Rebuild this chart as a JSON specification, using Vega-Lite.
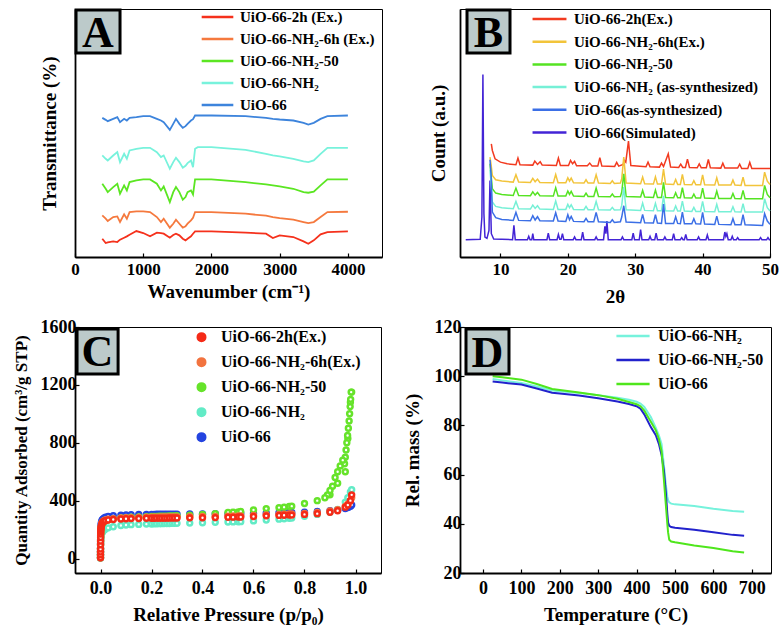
{
"$schema": "https://vega.github.io/schema/vega-lite/v6.json",
"background": "white",
"padding": {"left": 11, "top": 5, "right": 0, "bottom": 0},
"columns": 2,
"spacing": {"row": 70, "column": 78},
"bounds": "flush",
"resolve": {"scale": {"color": "independent"}, "legend": {"color": "independent"}},
"config": {
 "font": "Liberation Serif",
 "view": {"stroke": "black", "strokeWidth": 1},
 "axis": {"domainColor": "black", "domainWidth": 1.8, "tickColor": "black", "tickWidth": 1.2, "tickSize": -4, "labelFont": "Liberation Serif", "labelFontWeight": "bold", "labelColor": "black", "labelFontSize": 17, "titleFont": "Liberation Serif", "titleFontWeight": "bold", "titleColor": "black", "titleFontSize": 19, "grid": false, "labelFlush": false, "labelOverlap": false},
 "legend": {"labelFont": "Liberation Serif", "labelFontWeight": "bold", "labelColor": "black", "labelFontSize": 15, "padding": 0, "orient": "none", "labelLimit": 400},
 "text": {"font": "Liberation Serif"}
},
"datasets": {
 "tags": [
  {"panel": "A", "x0": 15, "x1": 660, "y0": 613, "y1": 742, "xc": 337, "yc": 677, "t": "A"},
  {"panel": "B", "x0": 5.04, "x1": 11.42, "y0": 613, "y1": 742, "xc": 8.23, "yc": 677, "t": "B"},
  {"panel": "C", "x0": -0.092, "x1": 0.069, "y0": 1275, "y1": 1586, "xc": -0.012, "yc": 1431, "t": "C"},
  {"panel": "D", "x0": -44.4, "x1": 67.6, "y0": 100.9, "y1": 119.2, "xc": 11.6, "yc": 110, "t": "D"}
 ],
 "namesA": [{"k": "a", "s": "UiO-66-2h (Ex.)"}, {"k": "b", "s": "UiO-66-NH₂-6h (Ex.)"}, {"k": "c", "s": "UiO-66-NH₂-50"}, {"k": "d", "s": "UiO-66-NH₂"}, {"k": "e", "s": "UiO-66"}],
 "namesB": [{"k": "r", "s": "UiO-66-2h(Ex.)"}, {"k": "ye", "s": "UiO-66-NH₂-6h(Ex.)"}, {"k": "gr", "s": "UiO-66-NH₂-50"}, {"k": "cy", "s": "UiO-66-NH₂ (as-synthesized)"}, {"k": "bl", "s": "UiO-66(as-synthesized)"}, {"k": "p", "s": "UiO-66(Simulated)"}],
 "namesC": [{"k": "r", "s": "UiO-66-2h(Ex.)", "z": 5}, {"k": "o", "s": "UiO-66-NH₂-6h(Ex.)", "z": 4}, {"k": "g", "s": "UiO-66-NH₂-50", "z": 3}, {"k": "c", "s": "UiO-66-NH₂", "z": 2}, {"k": "b", "s": "UiO-66", "z": 1}],
 "namesD": [{"k": "c", "s": "UiO-66-NH₂"}, {"k": "b", "s": "UiO-66-NH₂-50"}, {"k": "g", "s": "UiO-66"}],
 "ftir": [
  {"w": 400, "a": 55, "b": 125, "c": 220, "d": 305, "e": 418},
  {"w": 450, "a": 42, "b": 115, "c": 205, "d": 295, "e": 412},
  {"w": 480, "a": 44, "b": 108, "c": 195, "d": 290, "e": 408},
  {"w": 560, "a": 47, "b": 120, "c": 210, "d": 305, "e": 415},
  {"w": 620, "a": 45, "b": 122, "c": 220, "d": 315, "e": 420},
  {"w": 660, "a": 52, "b": 105, "c": 190, "d": 285, "e": 405},
  {"w": 720, "a": 58, "b": 128, "c": 215, "d": 310, "e": 415},
  {"w": 760, "a": 62, "b": 115, "c": 200, "d": 295, "e": 410},
  {"w": 800, "a": 67, "b": 135, "c": 225, "d": 320, "e": 418},
  {"w": 900, "a": 78, "b": 137, "c": 230, "d": 325, "e": 420},
  {"w": 1000, "a": 72, "b": 137, "c": 233, "d": 328, "e": 423},
  {"w": 1100, "a": 62, "b": 135, "c": 233, "d": 328, "e": 423},
  {"w": 1200, "a": 73, "b": 120, "c": 220, "d": 315, "e": 415},
  {"w": 1260, "a": 72, "b": 105, "c": 200, "d": 300, "e": 410},
  {"w": 1300, "a": 70, "b": 115, "c": 212, "d": 305, "e": 405},
  {"w": 1390, "a": 58, "b": 88, "c": 165, "d": 265, "e": 382},
  {"w": 1440, "a": 66, "b": 100, "c": 195, "d": 285, "e": 400},
  {"w": 1480, "a": 70, "b": 112, "c": 210, "d": 298, "e": 415},
  {"w": 1530, "a": 65, "b": 100, "c": 195, "d": 285, "e": 400},
  {"w": 1580, "a": 55, "b": 88, "c": 172, "d": 268, "e": 388},
  {"w": 1620, "a": 50, "b": 92, "c": 180, "d": 274, "e": 393},
  {"w": 1650, "a": 55, "b": 100, "c": 195, "d": 282, "e": 400},
  {"w": 1700, "a": 62, "b": 110, "c": 200, "d": 290, "e": 410},
  {"w": 1730, "a": 70, "b": 118, "c": 188, "d": 270, "e": 414},
  {"w": 1760, "a": 77, "b": 135, "c": 233, "d": 325, "e": 425},
  {"w": 1800, "a": 77, "b": 135, "c": 233, "d": 330, "e": 425},
  {"w": 2000, "a": 77, "b": 135, "c": 233, "d": 330, "e": 425},
  {"w": 2500, "a": 73, "b": 130, "c": 225, "d": 322, "e": 423},
  {"w": 2800, "a": 70, "b": 124, "c": 218, "d": 310, "e": 418},
  {"w": 2900, "a": 57, "b": 120, "c": 215, "d": 305, "e": 415},
  {"w": 3000, "a": 65, "b": 117, "c": 212, "d": 302, "e": 413},
  {"w": 3200, "a": 60, "b": 112, "c": 205, "d": 295, "e": 410},
  {"w": 3350, "a": 47, "b": 105, "c": 195, "d": 287, "e": 403},
  {"w": 3420, "a": 40, "b": 102, "c": 193, "d": 285, "e": 398},
  {"w": 3500, "a": 50, "b": 105, "c": 196, "d": 290, "e": 403},
  {"w": 3600, "a": 68, "b": 120, "c": 215, "d": 310, "e": 415},
  {"w": 3700, "a": 75, "b": 135, "c": 233, "d": 328, "e": 423},
  {"w": 4000, "a": 77, "b": 136, "c": 233, "d": 328, "e": 425}
 ],
 "xrd4": [
  {"x": 8.45, "ye": 300, "gr": 280, "cy": 262, "bl": 292},
  {"x": 8.6, "ye": 280, "gr": 250, "cy": 225, "bl": 250},
  {"x": 8.8, "ye": 245, "gr": 205, "cy": 165, "bl": 135},
  {"x": 9.3, "ye": 232, "gr": 192, "cy": 152, "bl": 118},
  {"x": 10.2, "ye": 228, "gr": 188, "cy": 148, "bl": 113},
  {"x": 11.9, "ye": 225, "gr": 185, "cy": 145, "bl": 110},
  {"x": 12.3, "ye": 247, "gr": 207, "cy": 167, "bl": 134},
  {"x": 12.7, "ye": 225, "gr": 185, "cy": 145, "bl": 110},
  {"x": 14.45, "ye": 224, "gr": 184, "cy": 144, "bl": 109},
  {"x": 14.8, "ye": 236, "gr": 196, "cy": 156, "bl": 124},
  {"x": 15.15, "ye": 226, "gr": 186, "cy": 146, "bl": 111},
  {"x": 15.5, "ye": 234, "gr": 194, "cy": 154, "bl": 121},
  {"x": 15.85, "ye": 224, "gr": 184, "cy": 144, "bl": 109},
  {"x": 17.85, "ye": 223, "gr": 183, "cy": 143, "bl": 108},
  {"x": 18.2, "ye": 248, "gr": 208, "cy": 168, "bl": 133},
  {"x": 18.55, "ye": 223, "gr": 183, "cy": 143, "bl": 108},
  {"x": 19.7, "ye": 223, "gr": 183, "cy": 143, "bl": 107},
  {"x": 20.0, "ye": 238, "gr": 198, "cy": 158, "bl": 127},
  {"x": 20.25, "ye": 228, "gr": 188, "cy": 148, "bl": 112},
  {"x": 20.5, "ye": 237, "gr": 197, "cy": 157, "bl": 122},
  {"x": 20.85, "ye": 223, "gr": 183, "cy": 143, "bl": 107},
  {"x": 22.4, "ye": 222, "gr": 182, "cy": 142, "bl": 106},
  {"x": 22.7, "ye": 232, "gr": 192, "cy": 152, "bl": 116},
  {"x": 23.0, "ye": 222, "gr": 182, "cy": 142, "bl": 106},
  {"x": 23.85, "ye": 222, "gr": 182, "cy": 142, "bl": 106},
  {"x": 24.2, "ye": 247, "gr": 207, "cy": 167, "bl": 134},
  {"x": 24.55, "ye": 222, "gr": 182, "cy": 142, "bl": 106},
  {"x": 26.3, "ye": 221, "gr": 181, "cy": 141, "bl": 104},
  {"x": 26.6, "ye": 229, "gr": 189, "cy": 149, "bl": 112},
  {"x": 26.9, "ye": 221, "gr": 181, "cy": 141, "bl": 104},
  {"x": 27.8, "ye": 222, "gr": 182, "cy": 142, "bl": 106},
  {"x": 28.0, "ye": 235, "gr": 195, "cy": 155, "bl": 120},
  {"x": 28.3, "ye": 300, "gr": 250, "cy": 210, "bl": 154},
  {"x": 28.65, "ye": 222, "gr": 182, "cy": 142, "bl": 105},
  {"x": 30.8, "ye": 220, "gr": 180, "cy": 140, "bl": 103},
  {"x": 31.1, "ye": 240, "gr": 200, "cy": 162, "bl": 128},
  {"x": 31.4, "ye": 220, "gr": 180, "cy": 140, "bl": 103},
  {"x": 32.7, "ye": 219, "gr": 179, "cy": 139, "bl": 102},
  {"x": 33.0, "ye": 241, "gr": 201, "cy": 161, "bl": 127},
  {"x": 33.3, "ye": 219, "gr": 179, "cy": 139, "bl": 102},
  {"x": 33.9, "ye": 219, "gr": 179, "cy": 139, "bl": 101},
  {"x": 34.2, "ye": 264, "gr": 224, "cy": 184, "bl": 159},
  {"x": 34.5, "ye": 219, "gr": 179, "cy": 139, "bl": 101},
  {"x": 35.7, "ye": 218, "gr": 178, "cy": 138, "bl": 101},
  {"x": 36.0, "ye": 233, "gr": 193, "cy": 153, "bl": 121},
  {"x": 36.3, "ye": 218, "gr": 178, "cy": 138, "bl": 101},
  {"x": 36.7, "ye": 218, "gr": 178, "cy": 138, "bl": 100},
  {"x": 37.0, "ye": 248, "gr": 208, "cy": 168, "bl": 135},
  {"x": 37.3, "ye": 218, "gr": 178, "cy": 138, "bl": 100},
  {"x": 38.4, "ye": 217, "gr": 177, "cy": 137, "bl": 100},
  {"x": 38.7, "ye": 229, "gr": 189, "cy": 149, "bl": 115},
  {"x": 39.0, "ye": 217, "gr": 177, "cy": 137, "bl": 100},
  {"x": 39.7, "ye": 217, "gr": 177, "cy": 137, "bl": 99},
  {"x": 40.0, "ye": 247, "gr": 207, "cy": 167, "bl": 134},
  {"x": 40.3, "ye": 217, "gr": 177, "cy": 137, "bl": 99},
  {"x": 41.8, "ye": 216, "gr": 176, "cy": 136, "bl": 98},
  {"x": 42.1, "ye": 238, "gr": 198, "cy": 158, "bl": 123},
  {"x": 42.4, "ye": 216, "gr": 176, "cy": 136, "bl": 98},
  {"x": 44.2, "ye": 216, "gr": 176, "cy": 136, "bl": 97},
  {"x": 44.5, "ye": 231, "gr": 191, "cy": 151, "bl": 115},
  {"x": 44.8, "ye": 216, "gr": 176, "cy": 136, "bl": 97},
  {"x": 45.7, "ye": 215, "gr": 175, "cy": 135, "bl": 97},
  {"x": 46.0, "ye": 240, "gr": 200, "cy": 160, "bl": 127},
  {"x": 46.3, "ye": 215, "gr": 175, "cy": 135, "bl": 97},
  {"x": 48.9, "ye": 215, "gr": 175, "cy": 135, "bl": 95},
  {"x": 49.2, "ye": 255, "gr": 215, "cy": 175, "bl": 130},
  {"x": 49.6, "ye": 228, "gr": 188, "cy": 148, "bl": 108},
  {"x": 50.0, "ye": 218, "gr": 178, "cy": 138, "bl": 98}
 ],
 "xrdRP": [
  {"k": "r", "x": 8.65, "v": 340}, {"k": "r", "x": 8.8, "v": 320}, {"k": "r", "x": 9.2, "v": 295}, {"k": "r", "x": 10, "v": 285}, {"k": "r", "x": 11, "v": 280},
  {"k": "r", "x": 12.3, "v": 277}, {"k": "r", "x": 12.6, "v": 297}, {"k": "r", "x": 12.9, "v": 277}, {"k": "r", "x": 14.8, "v": 276}, {"k": "r", "x": 15.1, "v": 288},
  {"k": "r", "x": 15.5, "v": 278}, {"k": "r", "x": 15.9, "v": 286}, {"k": "r", "x": 16.2, "v": 276}, {"k": "r", "x": 18.3, "v": 275}, {"k": "r", "x": 18.6, "v": 297},
  {"k": "r", "x": 18.9, "v": 275}, {"k": "r", "x": 20.1, "v": 275}, {"k": "r", "x": 20.4, "v": 290}, {"k": "r", "x": 20.7, "v": 280}, {"k": "r", "x": 21.0, "v": 287},
  {"k": "r", "x": 21.3, "v": 274}, {"k": "r", "x": 22.9, "v": 274}, {"k": "r", "x": 23.25, "v": 282}, {"k": "r", "x": 23.6, "v": 273}, {"k": "r", "x": 24.45, "v": 273},
  {"k": "r", "x": 24.75, "v": 298}, {"k": "r", "x": 25.05, "v": 273}, {"k": "r", "x": 26.95, "v": 272}, {"k": "r", "x": 27.25, "v": 284}, {"k": "r", "x": 27.55, "v": 273},
  {"k": "r", "x": 28.2, "v": 278}, {"k": "r", "x": 28.4, "v": 290}, {"k": "r", "x": 28.6, "v": 285}, {"k": "r", "x": 29.0, "v": 348}, {"k": "r", "x": 29.35, "v": 275},
  {"k": "r", "x": 31.6, "v": 271}, {"k": "r", "x": 31.9, "v": 285}, {"k": "r", "x": 32.2, "v": 271}, {"k": "r", "x": 33.6, "v": 270}, {"k": "r", "x": 33.9, "v": 282},
  {"k": "r", "x": 34.2, "v": 272}, {"k": "r", "x": 34.9, "v": 310}, {"k": "r", "x": 35.25, "v": 270}, {"k": "r", "x": 36.45, "v": 269}, {"k": "r", "x": 36.75, "v": 279},
  {"k": "r", "x": 37.05, "v": 269}, {"k": "r", "x": 37.45, "v": 269}, {"k": "r", "x": 37.75, "v": 294}, {"k": "r", "x": 38.05, "v": 269}, {"k": "r", "x": 39.2, "v": 268},
  {"k": "r", "x": 39.5, "v": 280}, {"k": "r", "x": 39.8, "v": 268}, {"k": "r", "x": 40.55, "v": 268}, {"k": "r", "x": 40.85, "v": 293}, {"k": "r", "x": 41.15, "v": 268},
  {"k": "r", "x": 42.7, "v": 267}, {"k": "r", "x": 43.0, "v": 282}, {"k": "r", "x": 43.3, "v": 267}, {"k": "r", "x": 45.2, "v": 267}, {"k": "r", "x": 45.5, "v": 279},
  {"k": "r", "x": 45.8, "v": 266}, {"k": "r", "x": 46.7, "v": 266}, {"k": "r", "x": 47.0, "v": 284}, {"k": "r", "x": 47.3, "v": 266}, {"k": "r", "x": 50, "v": 266},
  {"k": "p", "x": 4.85, "v": 52}, {"k": "p", "x": 7.0, "v": 53}, {"k": "p", "x": 7.25, "v": 120}, {"k": "p", "x": 7.4, "v": 548}, {"k": "p", "x": 7.55, "v": 130},
  {"k": "p", "x": 7.7, "v": 60}, {"k": "p", "x": 8.0, "v": 56}, {"k": "p", "x": 8.3, "v": 80}, {"k": "p", "x": 8.45, "v": 230}, {"k": "p", "x": 8.65, "v": 70},
  {"k": "p", "x": 9.0, "v": 54}, {"k": "p", "x": 11.8, "v": 52}, {"k": "p", "x": 12.0, "v": 95}, {"k": "p", "x": 12.2, "v": 52}, {"k": "p", "x": 14.0, "v": 52},
  {"k": "p", "x": 14.2, "v": 62}, {"k": "p", "x": 14.4, "v": 52}, {"k": "p", "x": 14.65, "v": 52}, {"k": "p", "x": 14.8, "v": 70}, {"k": "p", "x": 14.95, "v": 52},
  {"k": "p", "x": 16.9, "v": 52}, {"k": "p", "x": 17.1, "v": 72}, {"k": "p", "x": 17.3, "v": 52}, {"k": "p", "x": 18.4, "v": 52}, {"k": "p", "x": 18.6, "v": 68},
  {"k": "p", "x": 18.8, "v": 53}, {"k": "p", "x": 19.0, "v": 53}, {"k": "p", "x": 19.2, "v": 70}, {"k": "p", "x": 19.4, "v": 52}, {"k": "p", "x": 20.8, "v": 52},
  {"k": "p", "x": 21.0, "v": 60}, {"k": "p", "x": 21.2, "v": 52}, {"k": "p", "x": 22.0, "v": 52}, {"k": "p", "x": 22.2, "v": 75}, {"k": "p", "x": 22.4, "v": 52},
  {"k": "p", "x": 24.0, "v": 52}, {"k": "p", "x": 24.2, "v": 60}, {"k": "p", "x": 24.4, "v": 52}, {"k": "p", "x": 25.3, "v": 52}, {"k": "p", "x": 25.5, "v": 92},
  {"k": "p", "x": 25.65, "v": 70}, {"k": "p", "x": 25.8, "v": 108}, {"k": "p", "x": 26.0, "v": 52}, {"k": "p", "x": 27.9, "v": 52}, {"k": "p", "x": 28.1, "v": 60},
  {"k": "p", "x": 28.3, "v": 52}, {"k": "p", "x": 29.5, "v": 52}, {"k": "p", "x": 29.7, "v": 72}, {"k": "p", "x": 29.9, "v": 52}, {"k": "p", "x": 30.6, "v": 52},
  {"k": "p", "x": 30.8, "v": 82}, {"k": "p", "x": 31.0, "v": 52}, {"k": "p", "x": 32.0, "v": 52}, {"k": "p", "x": 32.2, "v": 62}, {"k": "p", "x": 32.4, "v": 52},
  {"k": "p", "x": 32.9, "v": 52}, {"k": "p", "x": 33.1, "v": 72}, {"k": "p", "x": 33.3, "v": 52}, {"k": "p", "x": 34.2, "v": 52}, {"k": "p", "x": 34.4, "v": 60},
  {"k": "p", "x": 34.6, "v": 52}, {"k": "p", "x": 35.5, "v": 52}, {"k": "p", "x": 35.7, "v": 70}, {"k": "p", "x": 35.9, "v": 52}, {"k": "p", "x": 36.7, "v": 52},
  {"k": "p", "x": 36.9, "v": 58}, {"k": "p", "x": 37.1, "v": 52}, {"k": "p", "x": 37.3, "v": 52}, {"k": "p", "x": 37.5, "v": 68}, {"k": "p", "x": 37.7, "v": 52},
  {"k": "p", "x": 39.2, "v": 52}, {"k": "p", "x": 39.4, "v": 60}, {"k": "p", "x": 39.6, "v": 52}, {"k": "p", "x": 40.5, "v": 52}, {"k": "p", "x": 40.7, "v": 66},
  {"k": "p", "x": 40.9, "v": 52}, {"k": "p", "x": 43.1, "v": 52}, {"k": "p", "x": 43.3, "v": 75}, {"k": "p", "x": 43.45, "v": 62}, {"k": "p", "x": 43.6, "v": 70},
  {"k": "p", "x": 43.8, "v": 52}, {"k": "p", "x": 44.2, "v": 52}, {"k": "p", "x": 44.4, "v": 62}, {"k": "p", "x": 44.6, "v": 52}, {"k": "p", "x": 45.0, "v": 52},
  {"k": "p", "x": 45.2, "v": 58}, {"k": "p", "x": 45.4, "v": 52}, {"k": "p", "x": 48.4, "v": 52}, {"k": "p", "x": 48.6, "v": 58}, {"k": "p", "x": 48.8, "v": 52},
  {"k": "p", "x": 49.5, "v": 52}, {"k": "p", "x": 49.7, "v": 58}, {"k": "p", "x": 49.9, "v": 52}, {"k": "p", "x": 50, "v": 52}
 ],
 "iso": [
  {"p": 0.00001, "b": 6, "c": 3, "g": 5, "o": 5, "r": 5},
  {"p": 0.00003, "b": 30, "c": 15, "g": 25, "o": 27, "r": 25},
  {"p": 0.00006, "b": 50, "c": 30, "g": 45, "o": 47, "r": 45},
  {"p": 0.0001, "b": 72, "c": 45, "g": 65, "o": 68, "r": 65},
  {"p": 0.0002, "b": 105, "c": 70, "g": 95, "o": 100, "r": 95},
  {"p": 0.0003, "b": 130, "c": 90, "g": 118, "o": 125, "r": 120},
  {"p": 0.0005, "b": 160, "c": 110, "g": 142, "o": 150, "r": 145},
  {"p": 0.0008, "b": 185, "c": 130, "g": 165, "o": 175, "r": 170},
  {"p": 0.001, "b": 200, "c": 140, "g": 178, "o": 190, "r": 185},
  {"p": 0.0015, "b": 218, "c": 150, "g": 195, "o": 205, "r": 200},
  {"p": 0.002, "b": 230, "c": 158, "g": 205, "o": 215, "r": 210},
  {"p": 0.003, "b": 245, "c": 165, "g": 218, "o": 228, "r": 222},
  {"p": 0.005, "b": 258, "c": 175, "g": 232, "o": 242, "r": 235},
  {"p": 0.007, "b": 266, "c": 182, "g": 242, "o": 250, "r": 245},
  {"p": 0.01, "b": 273, "c": 190, "g": 250, "o": 257, "r": 252},
  {"p": 0.015, "b": 280, "c": 198, "g": 258, "o": 263, "r": 258},
  {"p": 0.02, "b": 285, "c": 205, "g": 263, "o": 267, "r": 262},
  {"p": 0.03, "b": 290, "c": 212, "g": 268, "o": 271, "r": 266},
  {"p": 0.05, "b": 296, "c": 220, "g": 274, "o": 276, "r": 270},
  {"p": 0.08, "b": 300, "c": 228, "g": 280, "o": 280, "r": 273},
  {"p": 0.1, "b": 302, "c": 232, "g": 283, "o": 282, "r": 275},
  {"p": 0.12, "b": 303, "c": 234, "g": 285, "o": 283, "r": 276},
  {"p": 0.15, "b": 304, "c": 236, "g": 287, "o": 284, "r": 277},
  {"p": 0.18, "b": 305, "c": 238, "g": 289, "o": 285, "r": 278},
  {"p": 0.2, "b": 305, "c": 239, "g": 290, "o": 285, "r": 278},
  {"p": 0.21, "b": 305, "c": 240, "g": 291, "o": 286, "r": 278},
  {"p": 0.22, "b": 306, "c": 240, "g": 291, "o": 286, "r": 279},
  {"p": 0.23, "b": 306, "c": 241, "g": 292, "o": 286, "r": 279},
  {"p": 0.24, "b": 306, "c": 241, "g": 292, "o": 287, "r": 279},
  {"p": 0.25, "b": 306, "c": 242, "g": 293, "o": 287, "r": 279},
  {"p": 0.26, "b": 307, "c": 242, "g": 293, "o": 287, "r": 279},
  {"p": 0.27, "b": 307, "c": 242, "g": 294, "o": 287, "r": 280},
  {"p": 0.28, "b": 307, "c": 243, "g": 294, "o": 288, "r": 280},
  {"p": 0.29, "b": 307, "c": 243, "g": 295, "o": 288, "r": 280},
  {"p": 0.3, "b": 307, "c": 243, "g": 296, "o": 288, "r": 280},
  {"p": 0.35, "b": 308, "c": 245, "g": 300, "o": 289, "r": 281},
  {"p": 0.4, "b": 308, "c": 247, "g": 305, "o": 290, "r": 282},
  {"p": 0.45, "b": 309, "c": 250, "g": 310, "o": 291, "r": 283},
  {"p": 0.5, "b": 310, "c": 252, "g": 318, "o": 293, "r": 285},
  {"p": 0.52, "b": 310, "c": 253, "g": 320, "o": 294, "r": 286},
  {"p": 0.54, "b": 311, "c": 254, "g": 322, "o": 295, "r": 287},
  {"p": 0.55, "b": 311, "c": 255, "g": 325, "o": 295, "r": 287},
  {"p": 0.6, "b": 312, "c": 260, "g": 335, "o": 298, "r": 290},
  {"p": 0.65, "b": 314, "c": 266, "g": 345, "o": 302, "r": 295},
  {"p": 0.7, "b": 316, "c": 272, "g": 352, "o": 305, "r": 298},
  {"p": 0.72, "b": 317, "c": 275, "g": 355, "o": 306, "r": 299},
  {"p": 0.74, "b": 318, "c": 278, "g": 360, "o": 308, "r": 300},
  {"p": 0.75, "b": 318, "c": 280, "g": 362, "o": 308, "r": 300},
  {"p": 0.8, "b": 320, "c": 292, "g": 380, "o": 312, "r": 305},
  {"p": 0.85, "b": 325, "c": 305, "g": 400, "o": 318, "r": 310},
  {"p": 0.9, "b": 330, "c": 320, "g": 440, "o": 328, "r": 320},
  {"p": 0.93, "b": 335, "c": 340, "g": 520, "o": 338, "r": 330},
  {"p": 0.96, "b": 345, "c": 390, "g": 600, "o": 360, "r": 355},
  {"p": 0.97, "b": 352, "c": 420, "g": 830, "o": 375, "r": 370},
  {"p": 0.98, "b": 360, "c": 460, "g": 1080, "o": 400, "r": 400},
  {"p": 0.985, "b": 370, "c": 475, "g": 1150, "o": 420, "r": 440},
  {"p": 0.957, "g": 655}, {"p": 0.96, "g": 700}, {"p": 0.963, "g": 750}, {"p": 0.966, "g": 800}, {"p": 0.969, "g": 850},
  {"p": 0.972, "g": 900}, {"p": 0.975, "g": 950}, {"p": 0.977, "g": 1000}, {"p": 0.979, "g": 1050}, {"p": 0.981, "g": 1100}, {"p": 0.983, "g": 1150},
  {"p": 0.95, "g": 680}, {"p": 0.94, "g": 640}, {"p": 0.93, "g": 600}, {"p": 0.92, "g": 560}, {"p": 0.91, "g": 500},
  {"p": 0.9, "g": 470}, {"p": 0.89, "g": 440}, {"p": 0.88, "g": 420}
 ],
 "tga": [
  {"T": 25, "c": 98.9, "b": 97.8, "g": 100.0},
  {"T": 50, "c": 98.3, "b": 97.4, "g": 99.6},
  {"T": 100, "c": 97.2, "b": 96.6, "g": 98.6},
  {"T": 140, "c": 95.8, "b": 95.0, "g": 96.8},
  {"T": 180, "c": 94.2, "b": 93.3, "g": 94.8},
  {"T": 200, "c": 93.9, "b": 93.0, "g": 94.4},
  {"T": 250, "c": 93.2, "b": 92.2, "g": 93.4},
  {"T": 300, "c": 92.3, "b": 91.0, "g": 92.3},
  {"T": 350, "c": 91.2, "b": 89.7, "g": 90.8},
  {"T": 380, "c": 90.4, "b": 88.7, "g": 89.5},
  {"T": 400, "c": 89.6, "b": 87.8, "g": 88.6},
  {"T": 410, "c": 88.9, "b": 86.8, "g": 87.8},
  {"T": 420, "c": 87.5, "b": 84.5, "g": 86.0},
  {"T": 437, "c": 83.4, "b": 79.3, "g": 81.5},
  {"T": 450, "c": 79.0, "b": 76.0, "g": 78.0},
  {"T": 458, "c": 76.0, "b": 72.5, "g": 74.5},
  {"T": 465, "c": 72.5, "b": 68.0, "g": 69.5},
  {"T": 471, "c": 64.0, "b": 61.7, "g": 58.0},
  {"T": 476, "c": 56.0, "b": 53.0, "g": 48.0},
  {"T": 480, "c": 51.0, "b": 44.0, "g": 40.0},
  {"T": 482, "c": 49.6, "b": 40.5, "g": 36.5},
  {"T": 485, "c": 48.7, "b": 39.2, "g": 33.5},
  {"T": 490, "c": 48.2, "b": 38.7, "g": 32.8},
  {"T": 500, "c": 47.9, "b": 38.4, "g": 32.5},
  {"T": 550, "c": 47.2, "b": 37.6, "g": 31.2},
  {"T": 600, "c": 46.1, "b": 36.6, "g": 30.2},
  {"T": 650, "c": 45.2, "b": 35.5, "g": 28.8},
  {"T": 680, "c": 44.9, "b": 35.1, "g": 28.3}
 ]
},
"concat": [
 {
  "width": 307, "height": 248,
  "layer": [
   {"data": {"name": "ftir"},
    "transform": [{"fold": ["a", "b", "c", "d", "e"], "as": ["k", "v"]}, {"lookup": "k", "from": {"data": {"name": "namesA"}, "key": "k", "fields": ["s"]}}],
    "mark": {"type": "line", "strokeWidth": 1.8},
    "encoding": {
     "x": {"field": "w", "type": "quantitative", "scale": {"domain": [0, 4500], "nice": false}, "axis": {"title": "Wavenumber (cm⁻¹)", "values": [0, 1000, 2000, 3000, 4000], "format": "d", "labelPadding": 8, "titlePadding": 5}},
     "y": {"field": "v", "type": "quantitative", "scale": {"domain": [0, 745], "nice": false}, "axis": {"title": "Transmittance (%)", "labels": false, "ticks": false, "titlePadding": 16}},
     "color": {"field": "s", "type": "nominal",
      "scale": {"domain": ["UiO-66-2h (Ex.)", "UiO-66-NH₂-6h (Ex.)", "UiO-66-NH₂-50", "UiO-66-NH₂", "UiO-66"], "range": ["#f5311c", "#f5793e", "#5be622", "#78f2dc", "#3d84dc"]},
      "legend": {"title": null, "orient": "none", "legendX": 125, "legendY": -3, "symbolType": "stroke", "symbolSize": 1000, "symbolStrokeWidth": 2.5, "clipHeight": 22, "rowPadding": 0, "labelOffset": 5}}
    }},
   {"data": {"name": "tags"}, "transform": [{"filter": "datum.panel == 'A'"}],
    "mark": {"type": "rect", "fill": "#bccaca", "stroke": "black", "strokeWidth": 3},
    "encoding": {"x": {"field": "x0", "type": "quantitative"}, "x2": {"field": "x1"}, "y": {"field": "y0", "type": "quantitative"}, "y2": {"field": "y1"}}},
   {"data": {"name": "tags"}, "transform": [{"filter": "datum.panel == 'A'"}],
    "mark": {"type": "text", "fontSize": 44, "fontWeight": "bold", "font": "Liberation Serif", "align": "center", "baseline": "middle", "dy": 2, "color": "black"},
    "encoding": {"x": {"field": "xc", "type": "quantitative"}, "y": {"field": "yc", "type": "quantitative"}, "text": {"field": "t"}}}
  ]
 },
 {
  "width": 310, "height": 248,
  "layer": [
   {"data": {"name": "xrdRP"},
    "transform": [{"lookup": "k", "from": {"data": {"name": "namesB"}, "key": "k", "fields": ["s"]}}],
    "mark": {"type": "line", "strokeWidth": 1.5},
    "encoding": {
     "x": {"field": "x", "type": "quantitative", "scale": {"domain": [4, 50], "nice": false}, "axis": {"title": "2θ", "values": [10, 20, 30, 40, 50], "labelPadding": 8, "titlePadding": 10}},
     "y": {"field": "v", "type": "quantitative", "scale": {"domain": [0, 745], "nice": false}, "axis": {"title": "Count (a.u.)", "labels": false, "ticks": false, "titlePadding": 12}},
     "color": {"field": "s", "type": "nominal",
      "scale": {"domain": ["UiO-66-2h(Ex.)", "UiO-66-NH₂-6h(Ex.)", "UiO-66-NH₂-50", "UiO-66-NH₂ (as-synthesized)", "UiO-66(as-synthesized)", "UiO-66(Simulated)"], "range": ["#f23a1f", "#f2c43a", "#55e322", "#76f0d6", "#3b6fe6", "#4324d6"]},
      "legend": {"title": null, "orient": "none", "legendX": 71, "legendY": -1, "symbolType": "stroke", "symbolSize": 1150, "symbolStrokeWidth": 2.5, "clipHeight": 22, "rowPadding": 0.7, "labelOffset": 6}}
    }},
   {"data": {"name": "xrd4"},
    "transform": [{"fold": ["ye", "gr", "cy", "bl"], "as": ["k", "v"]}, {"lookup": "k", "from": {"data": {"name": "namesB"}, "key": "k", "fields": ["s"]}}],
    "mark": {"type": "line", "strokeWidth": 1.5},
    "encoding": {
     "x": {"field": "x", "type": "quantitative"},
     "y": {"field": "v", "type": "quantitative"},
     "color": {"field": "s", "type": "nominal"}
    }},
   {"data": {"name": "tags"}, "transform": [{"filter": "datum.panel == 'B'"}],
    "mark": {"type": "rect", "fill": "#bccaca", "stroke": "black", "strokeWidth": 3},
    "encoding": {"x": {"field": "x0", "type": "quantitative"}, "x2": {"field": "x1"}, "y": {"field": "y0", "type": "quantitative"}, "y2": {"field": "y1"}}},
   {"data": {"name": "tags"}, "transform": [{"filter": "datum.panel == 'B'"}],
    "mark": {"type": "text", "fontSize": 44, "fontWeight": "bold", "font": "Liberation Serif", "align": "center", "baseline": "middle", "dy": 2, "color": "black"},
    "encoding": {"x": {"field": "xc", "type": "quantitative"}, "y": {"field": "yc", "type": "quantitative"}, "text": {"field": "t"}}}
  ]
 },
 {
  "width": 306, "height": 246,
  "layer": [
   {"data": {"name": "iso"},
    "transform": [{"fold": ["b", "c", "g", "o", "r"], "as": ["k", "q"]}, {"filter": "isValid(datum.q)"}, {"lookup": "k", "from": {"data": {"name": "namesC"}, "key": "k", "fields": ["s", "z"]}}],
    "mark": {"type": "point", "shape": "circle", "filled": false, "fill": "white", "strokeWidth": 2.5, "size": 24, "opacity": 1},
    "encoding": {
     "x": {"field": "p", "type": "quantitative", "scale": {"domain": [-0.1, 1.1], "nice": false}, "axis": {"title": "Relative Pressure (p/p₀)", "values": [0, 0.2, 0.4, 0.6, 0.8, 1.0], "format": ".1f", "labelFontSize": 18, "labelPadding": 10, "titlePadding": 8}},
     "y": {"field": "q", "type": "quantitative", "scale": {"domain": [-100, 1600], "nice": false}, "axis": {"title": "Quantity Adsorbed (cm³/g STP)", "values": [0, 400, 800, 1200, 1600], "format": "d", "labelFontSize": 18, "titleFontSize": 17, "labelPadding": 3, "titlePadding": 10}},
     "order": {"field": "z", "type": "quantitative"},
     "color": {"field": "s", "type": "nominal",
      "scale": {"domain": ["UiO-66-2h(Ex.)", "UiO-66-NH₂-6h(Ex.)", "UiO-66-NH₂-50", "UiO-66-NH₂", "UiO-66"], "range": ["#f52a17", "#f2733f", "#66e32a", "#62ebc6", "#2444e0"]},
      "legend": {"title": null, "orient": "none", "legendX": 118.5, "legendY": -2, "symbolType": "circle", "symbolSize": 25, "symbolStrokeWidth": 5, "clipHeight": 24.3, "rowPadding": 0, "labelOffset": 11.5, "labelFontSize": 16}}
    }},
   {"data": {"name": "tags"}, "transform": [{"filter": "datum.panel == 'C'"}],
    "mark": {"type": "rect", "fill": "#bccaca", "stroke": "black", "strokeWidth": 3},
    "encoding": {"x": {"field": "x0", "type": "quantitative"}, "x2": {"field": "x1"}, "y": {"field": "y0", "type": "quantitative"}, "y2": {"field": "y1"}}},
   {"data": {"name": "tags"}, "transform": [{"filter": "datum.panel == 'C'"}],
    "mark": {"type": "text", "fontSize": 44, "fontWeight": "bold", "font": "Liberation Serif", "align": "center", "baseline": "middle", "dy": 2, "color": "black"},
    "encoding": {"x": {"field": "xc", "type": "quantitative"}, "y": {"field": "yc", "type": "quantitative"}, "text": {"field": "t"}}}
  ]
 },
 {
  "width": 311, "height": 246,
  "layer": [
   {"data": {"name": "tga"},
    "transform": [{"fold": ["c", "b", "g"], "as": ["k", "m"]}, {"lookup": "k", "from": {"data": {"name": "namesD"}, "key": "k", "fields": ["s"]}}],
    "mark": {"type": "line", "strokeWidth": 2},
    "encoding": {
     "x": {"field": "T", "type": "quantitative", "scale": {"domain": [-60, 750], "nice": false}, "axis": {"title": "Temperature (°C)", "values": [0, 100, 200, 300, 400, 500, 600, 700], "labelFontSize": 18, "labelPadding": 10, "titlePadding": 8}},
     "y": {"field": "m", "type": "quantitative", "scale": {"domain": [20, 120], "nice": false}, "axis": {"title": "Rel. mass (%)", "values": [20, 40, 60, 80, 100, 120], "labelFontSize": 18, "labelPadding": 3, "titlePadding": 12}},
     "color": {"field": "s", "type": "nominal",
      "scale": {"domain": ["UiO-66-NH₂", "UiO-66-NH₂-50", "UiO-66"], "range": ["#76f2dc", "#2222cc", "#4fe61c"]},
      "legend": {"title": null, "orient": "none", "legendX": 155, "legendY": -3, "symbolType": "stroke", "symbolSize": 1100, "symbolStrokeWidth": 2.5, "clipHeight": 24, "rowPadding": 0, "labelOffset": 7, "labelFontSize": 16}}
    }},
   {"data": {"name": "tags"}, "transform": [{"filter": "datum.panel == 'D'"}],
    "mark": {"type": "rect", "fill": "#bccaca", "stroke": "black", "strokeWidth": 3},
    "encoding": {"x": {"field": "x0", "type": "quantitative"}, "x2": {"field": "x1"}, "y": {"field": "y0", "type": "quantitative"}, "y2": {"field": "y1"}}},
   {"data": {"name": "tags"}, "transform": [{"filter": "datum.panel == 'D'"}],
    "mark": {"type": "text", "fontSize": 44, "fontWeight": "bold", "font": "Liberation Serif", "align": "center", "baseline": "middle", "dy": 2, "color": "black"},
    "encoding": {"x": {"field": "xc", "type": "quantitative"}, "y": {"field": "yc", "type": "quantitative"}, "text": {"field": "t"}}}
  ]
 }
]
}
